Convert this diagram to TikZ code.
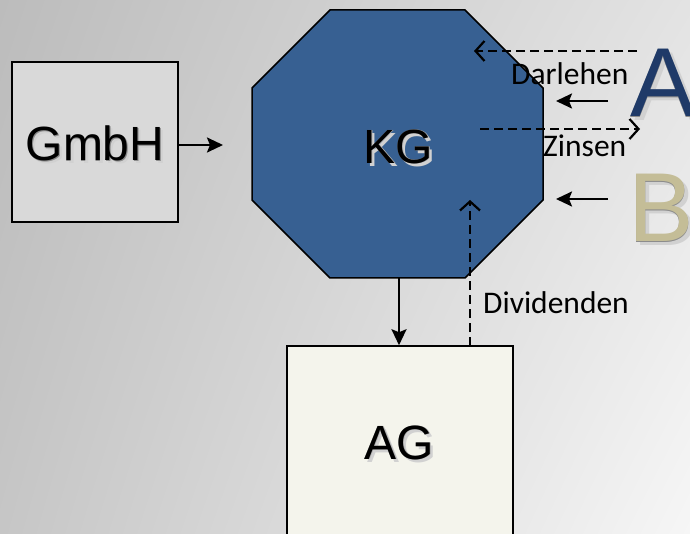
\documentclass[tikz,border=0pt]{standalone}
\usepackage{fontspec}
\setmainfont{Liberation Sans}
\newfontfamily\calfont{Carlito}
\usetikzlibrary{arrows.meta,shadings}
\definecolor{kgblue}{HTML}{376092}
\definecolor{abl}{HTML}{1F3A68}
\definecolor{btan}{HTML}{C4BD97}
\definecolor{gmbhfill}{HTML}{D9D9D9}
\definecolor{agfill}{HTML}{F4F4EC}
\definecolor{bgA}{HTML}{BCBCBC}
\definecolor{bgB}{HTML}{E3E3E3}
\definecolor{bgC}{HTML}{C6C6C6}
\definecolor{bgD}{HTML}{F6F6F6}
\newcommand\shlayer[3]{\rlap{\kern#1\raisebox{-#1}{\textcolor{#2}{#3}}}}
\newcommand\shtx[3]{\leavevmode\shlayer{#3}{black!18}{#2}\shlayer{0.7#3}{black!30}{#2}\shlayer{0.4#3}{black!45}{#2}\textcolor{#1}{#2}}
\begin{document}
\begin{tikzpicture}[x=1pt,y=-1pt,
  boxstyle/.style={draw=black, line width=1.5pt, inner sep=0pt},
  solidarrow/.style={line width=2.4pt, -{Stealth[length=16pt,width=15pt,inset=3pt]}},
  dasharrow/.style={line width=2.4pt, dash pattern=on 9pt off 5pt, -{Straight Barb[length=9pt,width=20pt,line width=2.2pt]}},
  lbl/.style={font=\calfont\fontsize{31.5}{36}\selectfont, anchor=base west, inner sep=0pt},
  bigtxt/.style={font=\fontsize{48}{56}\selectfont, inner sep=0pt},
  huge/.style={font=\fontsize{98}{110}\selectfont, anchor=base west, inner sep=0pt},
]
\clip (0,0) rectangle (690,534);
\shade[upper left=bgA, upper right=bgB, lower left=bgC, lower right=bgD] (0,0) rectangle (690,534);

% GmbH
\node[boxstyle, fill=gmbhfill, minimum width=166pt, minimum height=160pt] (gmbh) at (95,142) {};
\node[bigtxt] (gmbht) at (95,145) {\shtx{black}{GmbH}{3pt}};

% KG octagon
\draw[fill=kgblue, line width=1.5pt] (330,10) -- (465,10) -- (543,88) -- (543,200) -- (465,278) -- (330,278) -- (252,200) -- (252,88) -- cycle;
\node[bigtxt] (kg) at (398,148) {\shtx{black}{KG}{3pt}};
\coordinate (kgbottom) at (399,278);
\coordinate (kgin) at (223,145);

% AG
\node[boxstyle, fill=agfill, minimum width=226pt, minimum height=192pt] (ag) at (400,442) {};
\node[bigtxt] (agt) at (399,444) {\shtx{black}{AG}{3pt}};

% arrows
\draw[solidarrow] ([yshift=-3pt]gmbh.east) -- (kgin);
\draw[solidarrow] (kgbottom) -- (kgbottom |- ag.north);

\coordinate (dstart) at (637,51);
\coordinate (dend) at (474,51);
\draw[dasharrow] (dstart) -- (dend);
\coordinate (zstart) at (480,129);
\coordinate (zend) at (640,129);
\draw[dasharrow] (zstart) -- (zend);
\coordinate (divstart) at (470,346);
\coordinate (divend) at (470,200);
\draw[dasharrow] (divstart) -- (divend);

\coordinate (astart) at (608,101);
\coordinate (aend) at (556,101);
\draw[solidarrow] (astart) -- (aend);
\coordinate (bstart) at (608,199);
\coordinate (bend) at (556,199);
\draw[solidarrow] (bstart) -- (bend);

% labels
\node[lbl] (darl) at (511,85) {Darlehen};
\node[lbl] (zins) at (543,157) {Zinsen};
\node[lbl] (divi) at (483,313) {Dividenden};

% big letters
\node[huge] (A) at (630,117) {\shtx{abl}{A}{4pt}};
\node[huge] (B) at (628,242) {\shtx{btan}{B}{4pt}};
\end{tikzpicture}
\end{document}
